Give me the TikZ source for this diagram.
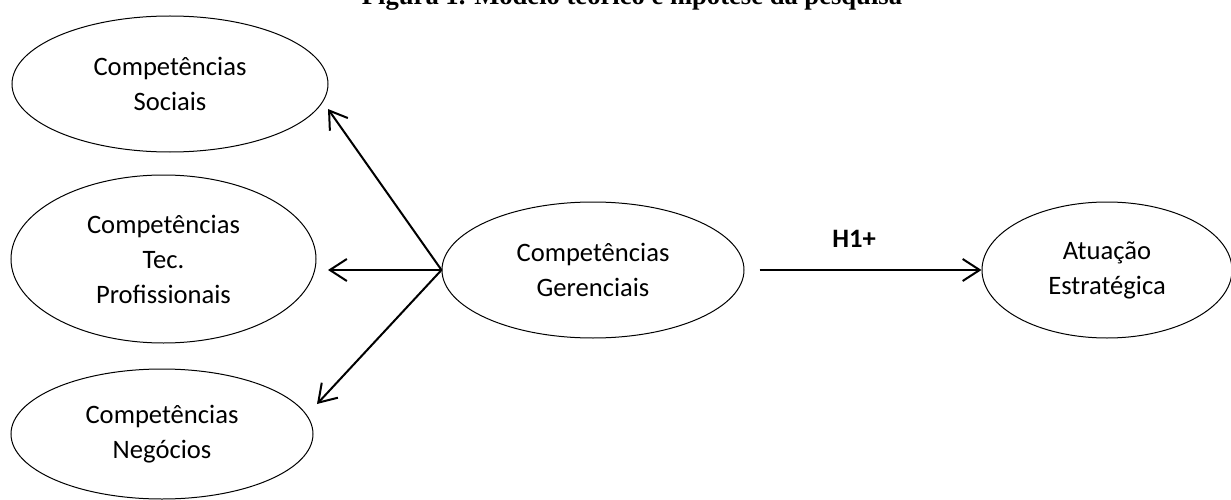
\documentclass[tikz,border=0pt]{standalone}
\usepackage{fontspec}
\setmainfont{Carlito}
\newfontfamily\titlefont{Liberation Serif}
\usetikzlibrary{shapes.geometric,arrows.meta}
\tikzset{
  construct/.style={ellipse,draw,line width=1pt,inner sep=0pt,align=center,
    font=\fontsize{26.6}{35}\selectfont},
  pathlink/.style={line width=2pt,-{Straight Barb[length=17pt,width=22pt]}}
}
\begin{document}
\begin{tikzpicture}[x=1pt,y=-1pt]
\useasboundingbox (0,0) rectangle (1231,500);
\node[anchor=base,font=\titlefont\bfseries\fontsize{26.6}{30}\selectfont] (title) at (632,5) {Figura 1. Modelo teórico e hipótese da pesquisa};
\node[construct,minimum width=316pt,minimum height=136pt] (soc) at (170,84) {Competências\\Sociais};
\node[construct,minimum width=305pt,minimum height=168pt] (tec) at (163.5,259) {Competências\\Tec.\\Profissionais};
\node[construct,minimum width=302pt,minimum height=130pt] (neg) at (162,434) {Competências\\Negócios};
\node[construct,minimum width=302pt,minimum height=136pt] (cg) at (593,270) {Competências\\Gerenciais};
\node[construct,minimum width=250pt,minimum height=136pt] (ae) at (1107,270) {Atuação\\Estratégica};
\coordinate (socT) at (328,109);
\coordinate (tecT) at (328,270);
\coordinate (negT) at (317,404);
\draw[pathlink] (cg.west) -- (socT);
\draw[pathlink] (cg.west) -- (tecT);
\draw[pathlink] (cg.west) -- (negT);
\draw[pathlink,shorten <=15pt] (cg.east) -- (ae.west);
\node[anchor=base,font=\bfseries\fontsize{26.6}{30}\selectfont] (h1) at (854,247) {H1+};
\end{tikzpicture}
\end{document}
